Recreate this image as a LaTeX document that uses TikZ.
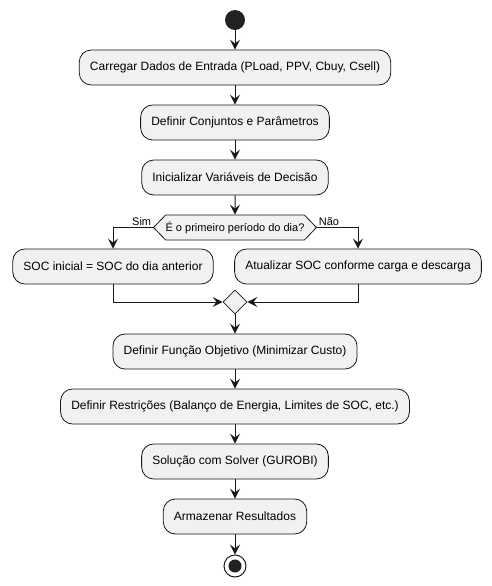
\documentclass[tikz,border=0pt]{standalone}
\usepackage{fontspec}
\setmainfont{Liberation Sans}
\usetikzlibrary{arrows.meta,shapes.geometric,shapes.symbols}
\definecolor{LineClr}{HTML}{181818}
\definecolor{BoxClr}{HTML}{F1F1F1}
\definecolor{DotClr}{HTML}{222222}

\tikzset{
  action/.style={draw=LineClr,fill=BoxClr,line width=0.6pt,rounded corners=9pt,
    minimum height=26.25pt,inner xsep=8pt,font=\fontsize{9}{11}\selectfont},
  decision/.style={signal,signal to=west and east,signal pointer angle=92,
    draw=LineClr,fill=BoxClr,line width=0.6pt,minimum height=18.75pt,
    inner xsep=0pt,inner ysep=0pt,font=\fontsize{8.25}{10}\selectfont},
  merge/.style={diamond,draw=LineClr,fill=BoxClr,line width=0.6pt,
    minimum size=18pt,inner sep=0pt},
  startdot/.style={circle,fill=DotClr,minimum size=15pt,inner sep=0pt},
  stopdot/.style={circle,draw=LineClr,line width=0.75pt,minimum size=16.5pt,inner sep=0pt,
    path picture={\fill[DotClr] (path picture bounding box.center) circle (4.9pt);}},
  flow/.style={draw=LineClr,line width=0.75pt,-{Stealth[length=7.5pt,width=7.5pt,inset=3pt]}},
  lbl/.style={font=\fontsize{8.25}{10}\selectfont,inner sep=1pt}
}

\begin{document}
\begin{tikzpicture}[x=0.75pt,y=-0.75pt]
\useasboundingbox (0,0) rectangle (492,586);

\node[startdot] (start) at (235,20) {};
\node[action] (load) at (235,67.5) {Carregar Dados de Entrada (PLoad, PPV, Cbuy, Csell)};
\node[action] (sets) at (235,122.5) {Definir Conjuntos e Parâmetros};
\node[action] (vars) at (235,177.5) {Inicializar Variáveis de Decisão};
\node[decision] (first) at (235,227.5) {É o primeiro período do dia?};
\node[action] (socprev) at (113,266.5) {SOC inicial = SOC do dia anterior};
\node[action] (socupd) at (358,266.5) {Atualizar SOC conforme carga e descarga};
\node[merge] (join) at (235,302) {};
\node[action] (obj) at (235,351.5) {Definir Função Objetivo (Minimizar Custo)};
\node[action] (cons) at (235,406.5) {Definir Restrições (Balanço de Energia, Limites de SOC, etc.)};
\node[action] (solve) at (235,461.5) {Solução com Solver (GUROBI)};
\node[action] (store) at (235,516.5) {Armazenar Resultados};
\node[stopdot] (stop) at (235,566) {};

\draw[flow] (start) -- (load);
\draw[flow] (load) -- (sets);
\draw[flow] (sets) -- (vars);
\draw[flow] (vars) -- (first);
\draw[flow] (first.west) node[lbl,above left] {Sim} -| (socprev.north);
\draw[flow] (first.east) node[lbl,above right] {Não} -| (socupd.north);
\draw[flow] (socprev.south) |- (join.west);
\draw[flow] (socupd.south) |- (join.east);
\draw[flow] (join) -- (obj);
\draw[flow] (obj) -- (cons);
\draw[flow] (cons) -- (solve);
\draw[flow] (solve) -- (store);
\draw[flow] (store) -- (stop);

\end{tikzpicture}
\end{document}
